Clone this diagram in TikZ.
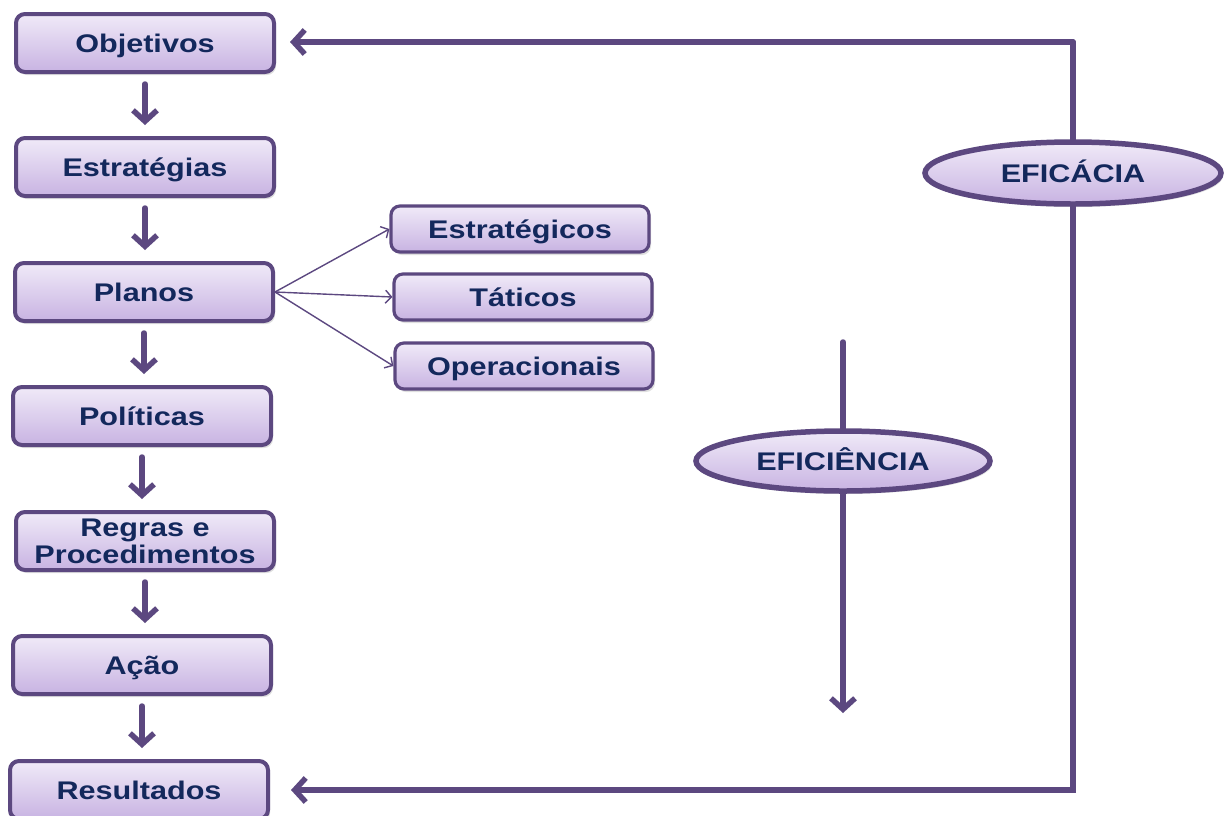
\documentclass[tikz,border=0pt]{standalone}
\usepackage{fontspec}
\setmainfont{Liberation Sans}[FakeStretch=1.2]
\usetikzlibrary{arrows.meta,shapes.geometric,shadows}
\definecolor{edge}{HTML}{5C4880}
\definecolor{ink}{HTML}{13285C}
\definecolor{filltop}{HTML}{F0EAF8}
\definecolor{fillbot}{HTML}{C8B3E2}
\tikzset{
  shade box/.style={top color=filltop, bottom color=fillbot, draw=edge,
    drop shadow={opacity=0.25, shadow xshift=2pt, shadow yshift=-3pt}},
  capcenter/.style={text height=18.5pt, text depth=0pt},
  twoline/.style={shade box, rectangle, rounded corners=9pt, line width=4pt,
    minimum width=258pt, minimum height=58pt, inner sep=0pt,
    font=\fontsize{25.5}{27}\selectfont\bfseries, text=ink, align=center},
  stagebox/.style={twoline, capcenter},
  planbox/.style={stagebox, line width=3.2pt, minimum height=46pt},
  measure/.style={shade box, ellipse, line width=5.5pt, inner sep=0pt,
    minimum width=296pt, minimum height=62pt, capcenter,
    font=\fontsize{25.5}{27}\selectfont\bfseries, text=ink},
  flow/.style={draw=edge, line width=5.5pt, line cap=round, line join=miter,
    -{Straight Barb[length=11pt,width=24pt,line width=5.5pt]}},
  branch/.style={draw=edge, line width=1.4pt,
    -{Straight Barb[length=6pt,width=13pt,line width=1.4pt]}}
}
\begin{document}
\begin{tikzpicture}[x=1pt,y=-1pt]
\useasboundingbox (0,0) rectangle (1224,815);

% corner of the feedback loop and ends of the efficiency arrow
\coordinate (loop) at (1073,42);
\coordinate (effstart) at (843,342);
\coordinate (effend) at (843,713);

% main chain of stages
\node[stagebox] (obj) at (145,43) {Objetivos};
\node[stagebox] (est) at (145,167) {Estratégias};
\node[stagebox] (pla) at (144,292) {Planos};
\node[stagebox] (pol) at (142,416) {Políticas};
\node[twoline] (reg) at (145,541) {Regras e\\Procedimentos};
\node[stagebox] (aca) at (142,665) {Ação};
\node[stagebox] (res) at (139,790) {Resultados};

% kinds of plans
\node[planbox] (pe) at (520,229) {Estratégicos};
\node[planbox] (pt) at (523,297) {Táticos};
\node[planbox] (po) at (524,366) {Operacionais};

% downward flow between stages
\foreach \a/\b in {obj/est, est/pla, pla/pol, pol/reg, reg/aca, aca/res}
  \draw[flow, shorten <=10pt, shorten >=11pt] (\a.south) -- (\a.south |- \b.north);

% branches from Planos
\draw[branch] (pla.east) -- (pe.west);
\draw[branch] (pla.east) -- (pt.west);
\draw[branch] (pla.east) -- (po.west);

% efficacy loop, drawn before the ellipse so the ellipse covers it
\draw[flow, shorten >=14pt] (loop) -- (obj.east |- loop);
\draw[flow, shorten >=21pt] (loop) |- (res.east);
\node[measure] (efic) at (1073,173) {EFICÁCIA};

% efficiency arrow
\draw[flow] (effstart) -- (effend);
\node[measure, minimum width=294pt, minimum height=60pt] (effi) at (843,461) {EFICIÊNCIA};
\end{tikzpicture}
\end{document}
